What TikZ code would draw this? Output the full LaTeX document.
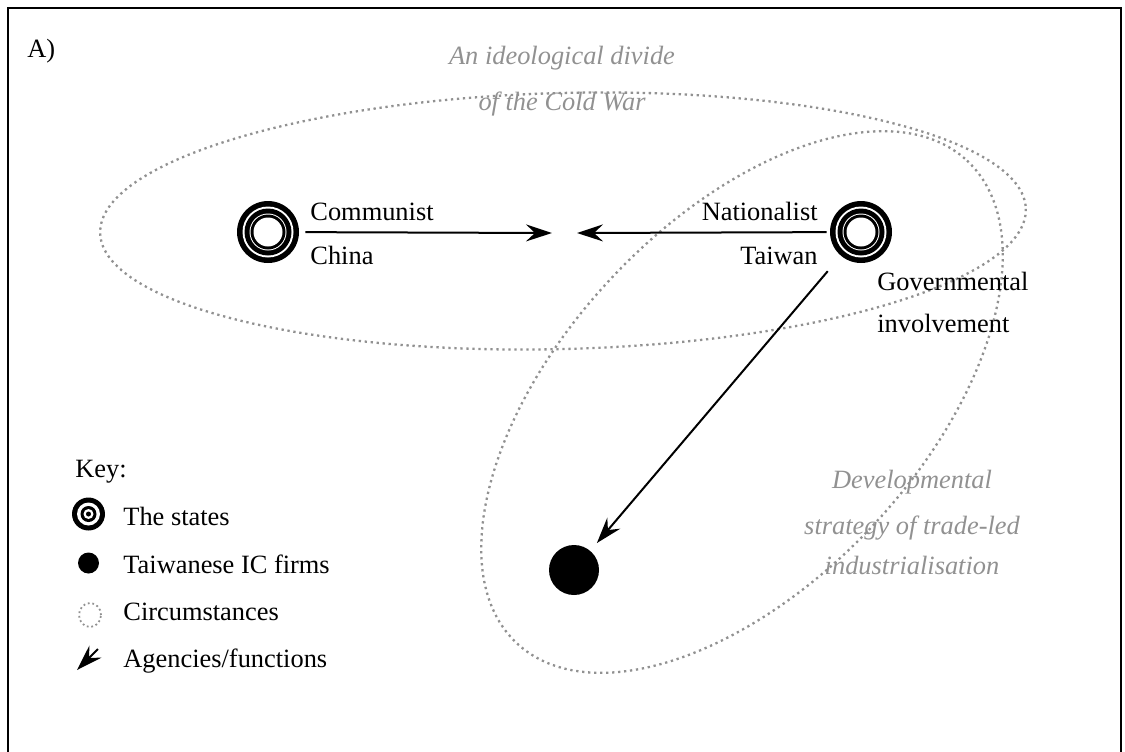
\documentclass[tikz,border=0pt]{standalone}
\usepackage{fontspec}
\setmainfont{Liberation Serif}
\usetikzlibrary{arrows.meta,shapes.geometric}
\definecolor{circgray}{RGB}{145,145,145}
\tikzset{
  lbl/.style={inner sep=0pt, font=\fontsize{13.2pt}{15pt}\selectfont},
  circlbl/.style={lbl, text=circgray, font=\fontsize{13.2pt}{15pt}\selectfont\itshape},
  circ/.style={draw=circgray, line width=1.15pt, dash pattern=on 1.15pt off 1.85pt},
  agency/.style={line width=1pt, -{Stealth[length=13pt, width=8.5pt, inset=4.5pt]}},
  statesym/.style={circle, inner sep=0pt, minimum size=31pt, fill=black,
    path picture={
      \fill[white] (path picture bounding box.center) circle (12.75pt);
      \fill[black] (path picture bounding box.center) circle (11.75pt);
      \fill[white] (path picture bounding box.center) circle (9.25pt);
      \fill[black] (path picture bounding box.center) circle (8.75pt);
      \fill[white] (path picture bounding box.center) circle (7.25pt);
    }},
  keystate/.style={circle, inner sep=0pt, minimum size=16.5pt, fill=black,
    path picture={
      \fill[white] (path picture bounding box.center) circle (5.75pt);
      \fill[black] (path picture bounding box.center) circle (4pt);
      \fill[white] (path picture bounding box.center) circle (2.5pt);
      \fill[black] (path picture bounding box.center) circle (1.25pt);
    }},
  firm/.style={circle, inner sep=0pt, fill=black},
}
\begin{document}
\begin{tikzpicture}[x=0.5pt, y=-0.5pt]
  \useasboundingbox (0,0) rectangle (1125,751);
  % open frame
  \draw[line width=1pt] (8,800) -- (8,8) -- (1121,8) -- (1121,800);
  \node[lbl, anchor=base west] (panel) at (27,57) {A)};

  % circumstances
  \draw[circ, rotate around={1.5:(563,221)}] (563,221) ellipse [x radius=463, y radius=128];
  \draw[circ, rotate around={47:(742,402)}] (742,402) ellipse [x radius=330, y radius=180];
  \node[circlbl, anchor=base] (cw1) at (562,64) {An ideological divide};
  \node[circlbl, anchor=base] (cw2) at (562,110) {of the Cold War};
  \node[circlbl, anchor=base] (dv1) at (912,488) {Developmental};
  \node[circlbl, anchor=base] (dv2) at (912,534) {strategy of trade-led};
  \node[circlbl, anchor=base] (dv3) at (912,574) {industrialisation};

  % the states
  \node[statesym] (china) at (268,232) {};
  \node[statesym] (taiwan) at (861,232) {};
  \node[lbl, anchor=base west] (chinaA) at (310,220) {Communist};
  \node[lbl, anchor=base west] (chinaB) at (310,264) {China};
  \node[lbl, anchor=base east] (taiwanA) at (818,220) {Nationalist};
  \node[lbl, anchor=base east] (taiwanB) at (818,264) {Taiwan};

  % firms
  \node[firm, minimum size=25pt] (firms) at (574,570) {};

  % agencies
  \coordinate (meetL) at (552,233);
  \coordinate (meetR) at (577,233);
  \draw[agency, shorten <=3pt] (china) -- (meetL);
  \draw[agency, shorten <=1.5pt] (taiwan) -- (meetR);
  \draw[agency, shorten <=10pt, shorten >=5pt] (taiwan) -- (firms);
  \node[lbl, anchor=base west] (govA) at (877,290) {Governmental};
  \node[lbl, anchor=base west] (govB) at (877,332) {involvement};

  % key
  \node[lbl, anchor=base west] (keyT) at (75,477) {Key:};
  \node[keystate] (keyS) at (88.5,514) {};
  \node[lbl, anchor=base west] (keySt) at (123,525) {The states};
  \node[firm, minimum size=10.5pt] (keyF) at (88.5,563) {};
  \node[lbl, anchor=base west] (keyFt) at (123,573) {Taiwanese IC firms};
  \node[circ, line width=0.9pt, dash pattern=on 0.9pt off 1.4pt, ellipse, inner sep=0pt,
        minimum width=11pt, minimum height=12pt] (keyC) at (90,615) {};
  \node[lbl, anchor=base west] (keyCt) at (123,620) {Circumstances};
  \coordinate (keyAtail) at (98,649);
  \coordinate (keyAtip) at (77,670);
  \draw[agency] (keyAtail) -- (keyAtip);
  \node[lbl, anchor=base west] (keyAt) at (123,667) {Agencies/functions};
\end{tikzpicture}
\end{document}
